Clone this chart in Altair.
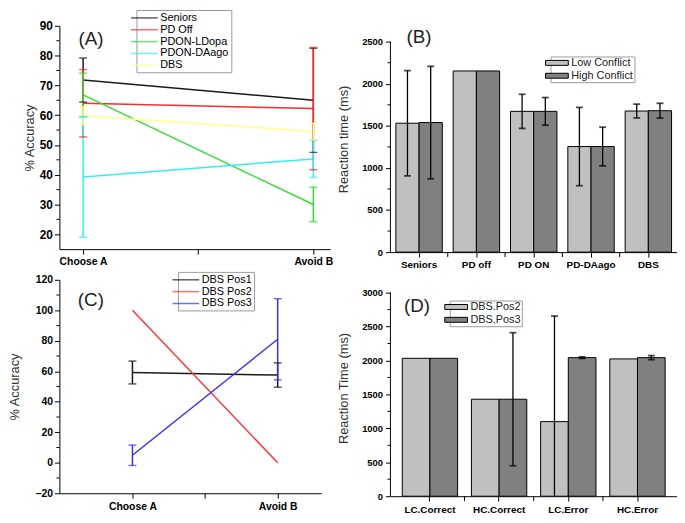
import altair as alt
import pandas as pd

FONT = "Liberation Sans"

# ---------------- Panel A data ----------------
a_series = ["Seniors", "PD Off", "PDON-LDopa", "PDON-DAago", "DBS"]
a_colors = ["#1a1a1a", "#ff2a2a", "#33dd33", "#33eeee", "#ffff88"]
a_conditions = ["Choose A", "Avoid B"]
a_choose = [71.8, 64.0, 66.8, 39.2, 59.8]
a_choose_err = [7.4, 11.3, 7.3, 20.2, 3.0]
a_avoid = [65.0, 62.2, 30.0, 45.3, 54.5]
a_avoid_err = [17.5, 20.5, 5.8, 6.2, 2.8]
a_yticks = [20, 30, 40, 50, 60, 70, 80, 90]
a_yminor = [25, 35, 45, 55, 65, 75, 85]

# ---------------- Panel B data ----------------
b_groups = ["Seniors", "PD off", "PD ON", "PD-DAago", "DBS"]
b_conflicts = ["Low Conflict", "High Conflict"]
b_low = [1531, 2152, 1672, 1254, 1676]
b_low_err = [625, 0, 203, 465, 82]
b_high = [1539, 2152, 1672, 1254, 1680]
b_high_err = [668, 0, 164, 230, 88]
b_yticks = [0, 500, 1000, 1500, 2000, 2500]
b_yminor = [250, 750, 1250, 1750, 2250]

# ---------------- Panel C data ----------------
c_series = ["DBS Pos1", "DBS Pos2", "DBS Pos3"]
c_colors = ["#1a1a1a", "#ff3333", "#3333ee"]
c_choose = [59.2, 100.0, 4.9]
c_choose_err = [7.5, 0, 6.7]
c_avoid = [57.5, 0.0, 81.0]
c_avoid_err = [8.0, 0, 26.6]
c_yticks = [-20, 0, 20, 40, 60, 80, 100, 120]
c_yminor = [-10, 10, 30, 50, 70, 90, 110]

# ---------------- Panel D data ----------------
d_groups = ["LC.Correct", "HC.Correct", "LC.Error", "HC.Error"]
d_series = ["DBS.Pos2", "DBS.Pos3"]
d_pos2 = [2032, 1429, 1099, 2023]
d_pos2_err = [0, 0, 1556, 0]
d_pos3 = [2032, 1429, 2042, 2042]
d_pos3_err = [0, 980, 12, 30]
d_yticks = [0, 500, 1000, 1500, 2000, 2500, 3000]
d_yminor = [250, 750, 1250, 1750, 2250, 2750]


def line_df(series, conds, choose, choose_err, avoid, avoid_err):
    rows = []
    for i, s in enumerate(series):
        for j, (v, e) in enumerate([(choose[i], choose_err[i]), (avoid[i], avoid_err[i])]):
            rows.append({"series": s, "cond": conds[j], "xpos": j + 1, "value": v, "err": e})
    return pd.DataFrame(rows)


def bar_df(groups, names, vals, errs):
    rows = []
    for k, n in enumerate(names):
        for i, g in enumerate(groups):
            rows.append({"group": g, "sub": n, "value": vals[k][i], "err": errs[k][i]})
    return pd.DataFrame(rows)


def line_panel(df, series, colors, xdom, ydom, yvals, yminor, ylabel, ylabsize, tpad,
               tag, tagx, tagy, legx, legy, w, h):
    xsc = alt.Scale(domain=xdom, nice=False, zero=False)
    xax = alt.Axis(title=None, values=[1, 1.5, 2], grid=False, labelOverlap=False,
                   labelExpr="datum.value == 1 ? 'Choose A' : (datum.value == 2 ? 'Avoid B' : '')",
                   labelFont=FONT, labelFontWeight="bold", labelFontSize=10.5, labelColor="black",
                   tickColor="black", domainColor="black", tickSize=5, labelPadding=3)
    xa = alt.X("xpos:Q", scale=xsc, axis=xax)
    ysc = alt.Scale(domain=ydom, nice=False, zero=False)
    yax = alt.Axis(title=ylabel, values=yvals, grid=False, format="d", labelOverlap=False,
                   labelFont=FONT, labelFontWeight="bold", labelFontSize=ylabsize, labelColor="black",
                   titleFont=FONT, titleFontWeight="normal", titleFontSize=13, titleColor="#333333",
                   tickColor="black", domainColor="black", tickSize=5, labelPadding=2,
                   titlePadding=tpad)
    col = alt.Color("series:N", scale=alt.Scale(domain=series, range=colors),
                    legend=alt.Legend(orient="none", legendX=legx, legendY=legy, title=None,
                                      symbolType="M-2.7,0H2.7", symbolSize=100, symbolStrokeWidth=1.5,
                                      labelFont=FONT, labelFontSize=11, labelColor="black",
                                      strokeColor="#9a9a9a", fillColor="white", padding=2,
                                      rowPadding=1, labelOffset=10, labelLimit=200))
    base = alt.Chart(df)
    lines = base.mark_line(strokeWidth=1.5).encode(
        x=xa, y=alt.Y("value:Q", scale=ysc, axis=yax), color=col, order="xpos:Q")
    errdf = base.transform_filter("datum.err > 0").transform_calculate(
        lo="datum.value - datum.err", hi="datum.value + datum.err")
    rules = errdf.mark_rule(strokeWidth=1.5).encode(
        x=xa, y=alt.Y("lo:Q", scale=ysc, axis=yax), y2="hi:Q", color=col)
    caps = errdf.transform_fold(["lo", "hi"], as_=["end", "ypos"]).mark_tick(
        thickness=1.5, size=8, orient="horizontal").encode(
        x=xa, y=alt.Y("ypos:Q", scale=ysc, axis=yax), color=col)
    minor = alt.Chart(pd.DataFrame({"m": yminor})).mark_rule(color="black", strokeWidth=1).encode(
        y=alt.Y("m:Q", scale=ysc, axis=yax), x=alt.value(-3), x2=alt.value(0))
    label = alt.Chart(pd.DataFrame({"t": [tag]})).mark_text(
        font=FONT, fontSize=19, color="#222222").encode(
        x=alt.X(datum=tagx, type="quantitative", scale=xsc, axis=xax),
        y=alt.Y(datum=tagy, type="quantitative", scale=ysc, axis=yax), text="t:N")
    return alt.layer(lines, rules, caps, minor, label).properties(width=w, height=h)


def bar_panel(df, groups, names, pin, pout, ydom, yvals, yminor, ytop, ylabel, tag, tagg, tagdx,
              tagy, legx, legy, w, h):
    xsc = alt.Scale(domain=groups, paddingInner=pin, paddingOuter=pout)
    xax = alt.Axis(title=None, labelAngle=0, labelFont=FONT, labelFontWeight="bold",
                   labelFontSize=10, labelColor="black", tickColor="black",
                   domainColor="black", tickSize=5, labelPadding=3)
    xb = alt.X("group:N", sort=groups, scale=xsc, axis=xax)
    xo = alt.XOffset("sub:N", sort=names, scale=alt.Scale(domain=names, paddingInner=0, paddingOuter=0))
    ysc = alt.Scale(domain=ydom, nice=False, zero=False)
    yax = alt.Axis(title=ylabel, values=yvals, grid=False, domain=False, format="d", labelOverlap=False,
                   labelFont=FONT, labelFontWeight="bold", labelFontSize=9.5, labelColor="black",
                   titleFont=FONT, titleFontWeight="normal", titleFontSize=13, titleColor="#333333",
                   tickColor="black", tickSize=5, labelPadding=3, titlePadding=11)
    col = alt.Color("sub:N", scale=alt.Scale(domain=names, range=["#c0c0c0", "#808080"]),
                    legend=alt.Legend(orient="none", legendX=legx, legendY=legy, title=None,
                                      symbolType="M-2.3,-0.5H2.3V0.5H-2.3Z", symbolSize=100,
                                      symbolStrokeColor="black", symbolStrokeWidth=1,
                                      symbolOpacity=1,
                                      labelFont=FONT, labelFontSize=11, labelColor="#222222",
                                      strokeColor="#9a9a9a", fillColor="white", padding=1,
                                      rowPadding=1, labelOffset=9, labelLimit=200))
    base = alt.Chart(df)
    bars = base.mark_bar(stroke="black", strokeWidth=1, opacity=1).encode(
        x=xb, xOffset=xo, y=alt.Y("value:Q", scale=ysc, axis=yax), color=col)
    errdf = base.transform_filter("datum.err > 0").transform_calculate(
        lo="datum.value - datum.err", hi="datum.value + datum.err")
    rules = errdf.mark_rule(color="black", strokeWidth=1.3, clip=True).encode(
        x=xb, xOffset=xo, y=alt.Y("lo:Q", scale=ysc, axis=yax), y2="hi:Q")
    caps = errdf.transform_fold(["lo", "hi"], as_=["end", "ypos"]).transform_filter(
        "datum.ypos >= 0").mark_tick(color="black", thickness=1.8, size=7, orient="horizontal").encode(
        x=xb, xOffset=xo, y=alt.Y("ypos:Q", scale=ysc, axis=yax))
    yline = alt.Chart(pd.DataFrame({"a": [0]})).mark_rule(color="black", strokeWidth=1).encode(
        x=alt.value(0), y=alt.Y(datum=0, type="quantitative", scale=ysc, axis=yax), y2=alt.datum(ytop))
    minor = alt.Chart(pd.DataFrame({"m": yminor})).mark_rule(color="black", strokeWidth=1).encode(
        y=alt.Y("m:Q", scale=ysc, axis=yax), x=alt.value(-3), x2=alt.value(0))
    step = w / (len(groups) - pin + 2 * pout)
    gap_px = pin * step / 2
    between = alt.Chart(pd.DataFrame({"group": groups[1:]})).mark_rule(
        color="black", strokeWidth=1, xOffset=-gap_px).encode(
        x=alt.X("group:N", sort=groups, scale=xsc, axis=xax, bandPosition=0),
        y=alt.value(h), y2=alt.value(h + 5))
    label = alt.Chart(pd.DataFrame({"t": [tag]})).mark_text(
        font=FONT, fontSize=19, color="#222222", dx=tagdx).encode(
        x=alt.X(datum=tagg, type="nominal", scale=xsc, axis=xax),
        y=alt.Y(datum=tagy, type="quantitative", scale=ysc, axis=yax), text="t:N")
    return alt.layer(bars, rules, caps, yline, minor, between, label).properties(width=w, height=h)


dfA = line_df(a_series, a_conditions, a_choose, a_choose_err, a_avoid, a_avoid_err)
dfC = line_df(c_series, a_conditions, c_choose, c_choose_err, c_avoid, c_avoid_err)
dfB = bar_df(b_groups, b_conflicts, [b_low, b_high], [b_low_err, b_high_err])
dfD = bar_df(d_groups, d_series, [d_pos2, d_pos3], [d_pos2_err, d_pos3_err])

pA = line_panel(dfA, a_series, a_colors, [0.897, 2.073], [15, 90], a_yticks, a_yminor,
                "% Accuracy", 12, 3, "(A)", 1.034, 85.7, 78, -16, 274, 226)
pB = bar_panel(dfB, b_groups, b_conflicts, 0.19, 0.095, [0, 2688], b_yticks, b_yminor, 2500,
               "Reaction time (ms)", "(B)", "Seniors", 0, 2559, 162, 31, 290, 229)
pC = line_panel(dfC, c_series, c_colors, [0.497, 2.30], [-20, 120], c_yticks, c_yminor,
                "% Accuracy", 10.5, 14, "(C)", 0.714, 107, 120, -8, 265, 216)
pD = bar_panel(dfD, d_groups, d_series, 0.2, 0.171, [0, 3189], d_yticks, d_yminor, 3000,
               "Reaction Time (ms)", "(D)", "LC.Correct", -13, 2796, 60, 21, 290, 219)

chart = alt.concat(pA, pB, pC, pD, columns=2, spacing={"row": 1, "column": 4}).properties(
    padding={"top": -2, "left": 0, "right": 0, "bottom": 0}
).resolve_scale(
    x="independent", y="independent", color="independent", xOffset="independent"
).configure_view(stroke=None)

chart.save("out.html", embed_options={"renderer": "svg", "actions": False})
